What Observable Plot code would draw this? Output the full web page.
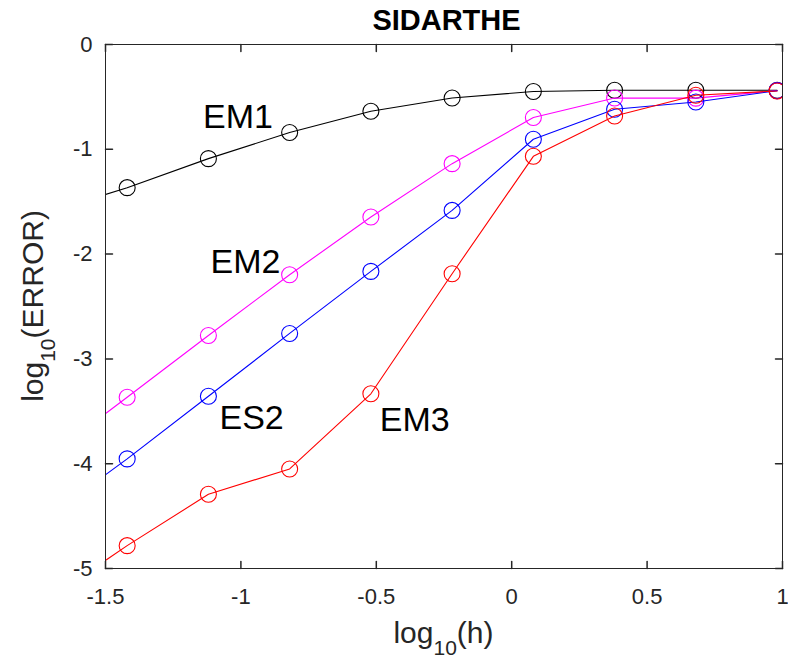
<!DOCTYPE html>
<html>
<head>
<meta charset="utf-8">
<script src="https://cdn.jsdelivr.net/npm/d3@7"></script>
<script src="https://cdn.jsdelivr.net/npm/@observablehq/plot@0.6"></script>
<style>
  html, body { margin: 0; padding: 0; background: #fff; }
  #chart svg { display: block; }
</style>
</head>
<body>
<div id="chart"></div>
<script>
// log10 of the step size h (the first step lies left of the visible range)
const logH = [-1.72, -1.42, -1.12, -0.82, -0.52, -0.22, 0.08, 0.38, 0.68, 0.98];

// log10 of the error for each scheme
const errEM1 = [-1.61, -1.366, -1.089, -0.840, -0.637, -0.510, -0.449, -0.436, -0.437, -0.437];
const errEM2 = [-3.95, -3.366, -2.777, -2.197, -1.646, -1.137, -0.697, -0.510, -0.512, -0.440];
const errES2 = [-4.52, -3.954, -3.356, -2.757, -2.165, -1.583, -0.904, -0.618, -0.548, -0.440];
const errEM3 = [-5.31, -4.782, -4.292, -4.050, -3.333, -2.187, -1.067, -0.682, -0.484, -0.443];

const schemeNames = ["EM1", "EM2", "ES2", "EM3"];
const schemeColors = ["#000000", "#ff00ff", "#0000ff", "#ff0000"];
const schemeErrors = [errEM1, errEM2, errES2, errEM3];

// in-plot annotations (text start, baseline)
const labelX = [-1.14, -1.112, -1.079, -0.487];
const labelY = [-0.80, -2.181, -3.668, -3.684];

const xTicks = [-1.5, -1, -0.5, 0, 0.5, 1];
const yTicks = [0, -1, -2, -3, -4, -5];

const rows = schemeNames.flatMap((name, s) =>
  logH.map((h, i) => ({scheme: name, color: schemeColors[s], h, err: schemeErrors[s][i]}))
);
const labels = schemeNames.map((name, s) => ({name, x: labelX[s], y: labelY[s]}));

const axisColor = "#262626";
const font = "'Liberation Sans', Arial, Helvetica, sans-serif";

// a plain inward tick drawn by the vector mark
const tickShape = {draw(ctx, l) { ctx.moveTo(0, 0); ctx.lineTo(0, -l); }};
const tickLen = 7;

const W = 788, H = 659;
const M = {left: 105, right: 6, top: 44, bottom: 91};

const chart = Plot.plot({
  width: W,
  height: H,
  marginLeft: M.left,
  marginRight: M.right,
  marginTop: M.top,
  marginBottom: M.bottom,
  x: {domain: [-1.5, 1]},
  y: {domain: [-5, 0]},
  style: {fontFamily: font, background: "#fff", color: axisColor, overflow: "visible"},
  marks: [
    Plot.axisX({ticks: xTicks, tickSize: 0, tickPadding: 20, fontSize: 22, tickFormat: d => String(d), label: null, fill: axisColor}),
    Plot.axisY({ticks: yTicks, tickSize: 0, tickPadding: 13, fontSize: 22, tickFormat: d => String(d), label: null, fill: axisColor}),
    Plot.vector(xTicks, {x: d => d, frameAnchor: "bottom", rotate: 0, length: tickLen, anchor: "start", shape: tickShape, stroke: axisColor}),
    Plot.vector(xTicks, {x: d => d, frameAnchor: "top", rotate: 180, length: tickLen, anchor: "start", shape: tickShape, stroke: axisColor}),
    Plot.vector(yTicks, {y: d => d, frameAnchor: "left", rotate: 90, length: tickLen, anchor: "start", shape: tickShape, stroke: axisColor}),
    Plot.vector(yTicks, {y: d => d, frameAnchor: "right", rotate: -90, length: tickLen, anchor: "start", shape: tickShape, stroke: axisColor}),
    ...schemeNames.map(name => {
      const data = rows.filter(r => r.scheme === name);
      return [
        Plot.line(data, {x: "h", y: "err", stroke: "color", strokeWidth: 1.1, clip: true}),
        Plot.dot(data, {x: "h", y: "err", r: 8, stroke: "color", fill: "none", strokeWidth: 1.1, clip: true})
      ];
    }),
    Plot.text(labels, {x: "x", y: "y", text: "name", textAnchor: "start", lineAnchor: "bottom", fontSize: 34, fill: "#000"}),
    Plot.frame({stroke: axisColor, strokeWidth: 1})
  ]
});

document.getElementById("chart").appendChild(chart);

// title and axis titles (with subscripts) added as SVG text
const svg = d3.select(chart);
const cx = M.left + (W - M.left - M.right) / 2;
const cy = M.top + (H - M.top - M.bottom) / 2;

svg.append("text")
  .attr("x", cx + 3).attr("y", 30)
  .attr("text-anchor", "middle")
  .attr("font-family", font).attr("font-size", 29).attr("font-weight", "bold")
  .attr("fill", "#000")
  .text("SIDARTHE");

function subscriptLabel(sel, base, sub, tail) {
  sel.append("tspan").text(base);
  sel.append("tspan").attr("font-size", 21).attr("dy", 12).text(sub);
  sel.append("tspan").attr("dy", -12).text(tail);
}

const xl = svg.append("text")
  .attr("x", cx).attr("y", 643)
  .attr("text-anchor", "middle")
  .attr("font-family", font).attr("font-size", 30)
  .attr("fill", axisColor);
subscriptLabel(xl, "log", "10", "(h)");

const yl = svg.append("text")
  .attr("transform", `translate(43,${cy}) rotate(-90)`)
  .attr("text-anchor", "middle")
  .attr("font-family", font).attr("font-size", 30)
  .attr("fill", axisColor);
subscriptLabel(yl, "log", "10", "(ERROR)");
</script>
</body>
</html>
